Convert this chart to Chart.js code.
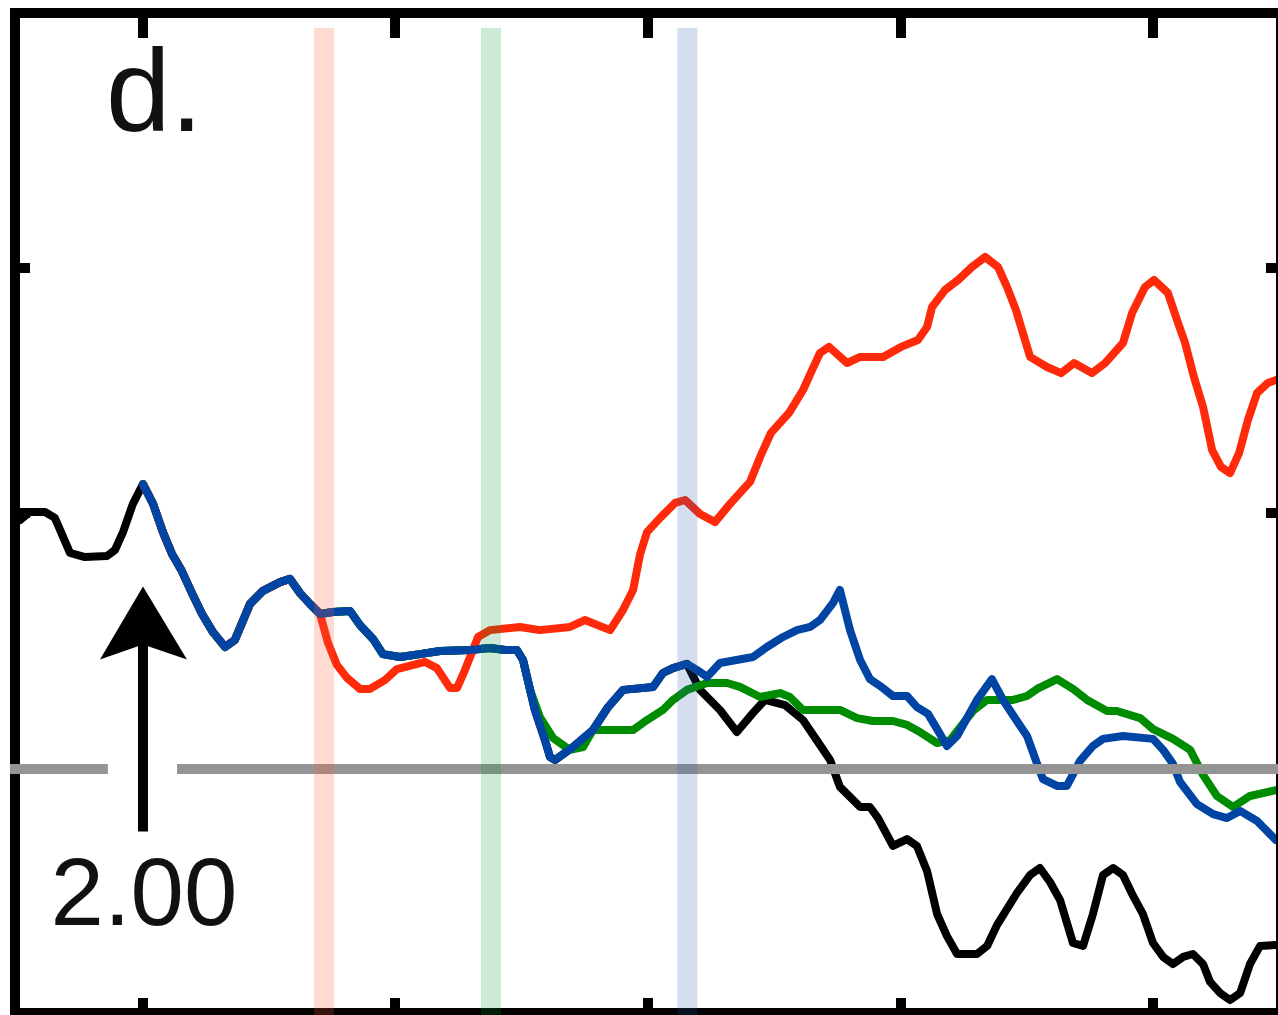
<!DOCTYPE html>
<html>
<head>
<meta charset="utf-8">
<title>d.</title>
<script src="https://cdn.jsdelivr.net/npm/chart.js@4.4.1/dist/chart.umd.min.js"></script>
<style>
  html, body { margin: 0; padding: 0; background: #fff; overflow: hidden; }
  #wrap { width: 1278px; height: 1015px; position: relative; }
</style>
</head>
<body>
<div id="wrap"><canvas id="chart"></canvas></div>
<script>
// axis ticks (no labels in the panel)
const xTicks = [1, 2, 3, 4, 5];
const yTicks = [1, 2];

// black series before the event
const preX = [0.513, 0.552, 0.612, 0.651, 0.711, 0.770, 0.857, 0.889, 0.921, 0.960];
const preY = [0.971, 1.004, 1.004, 0.980, 0.837, 0.820, 0.824, 0.849, 0.922, 1.037];

// path shared by all series from the event on
const commonX = [1.000, 1.040, 1.079, 1.115, 1.154, 1.194, 1.234, 1.277, 1.325, 1.364, 1.424, 1.475, 1.543, 1.582, 1.622, 1.661, 1.701, 1.752, 1.820, 1.859, 1.911, 1.950, 2.018, 2.097, 2.176, 2.295, 2.374, 2.434, 2.481, 2.505, 2.533, 2.552, 2.592, 2.612, 2.632, 2.703, 2.782, 2.842, 2.901, 3.020, 3.059, 3.099, 3.154];
const commonY = [1.118, 1.037, 0.922, 0.833, 0.763, 0.673, 0.588, 0.514, 0.453, 0.482, 0.629, 0.682, 0.718, 0.731, 0.673, 0.629, 0.588, 0.596, 0.600, 0.543, 0.486, 0.424, 0.412, 0.424, 0.437, 0.441, 0.449, 0.441, 0.441, 0.400, 0.278, 0.196, 0.073, 0.004, -0.008, 0.045, 0.114, 0.208, 0.278, 0.290, 0.347, 0.367, 0.384];

// where each coloured series leaves the shared path
const redSplit = 1.701;
const greenSplit = 2.533;
const blueSplit = 3.154;

const blackX = [3.206, 3.285, 3.352, 3.416, 3.463, 3.543, 3.614, 3.681, 3.721, 3.760, 3.800, 3.840, 3.879, 3.911, 3.970, 4.026, 4.065, 4.105, 4.145, 4.184, 4.224, 4.303, 4.343, 4.382, 4.461, 4.513, 4.552, 4.592, 4.632, 4.683, 4.723, 4.762, 4.802, 4.842, 4.881, 4.921, 4.960, 5.000, 5.040, 5.079, 5.119, 5.158, 5.198, 5.226, 5.265, 5.305, 5.345, 5.384, 5.424, 5.487];
const blackY = [0.278, 0.196, 0.106, 0.184, 0.237, 0.216, 0.155, 0.053, -0.008, -0.118, -0.159, -0.200, -0.200, -0.245, -0.359, -0.331, -0.359, -0.461, -0.637, -0.727, -0.800, -0.800, -0.767, -0.682, -0.551, -0.478, -0.449, -0.506, -0.580, -0.755, -0.767, -0.637, -0.478, -0.449, -0.478, -0.563, -0.637, -0.755, -0.812, -0.841, -0.812, -0.800, -0.841, -0.914, -0.959, -0.988, -0.959, -0.841, -0.767, -0.763];

const blueX = [3.206, 3.234, 3.285, 3.416, 3.471, 3.535, 3.590, 3.642, 3.681, 3.733, 3.760, 3.800, 3.840, 3.879, 3.919, 3.970, 4.026, 4.065, 4.109, 4.145, 4.184, 4.224, 4.263, 4.303, 4.362, 4.406, 4.461, 4.501, 4.541, 4.564, 4.620, 4.659, 4.711, 4.762, 4.802, 4.881, 5.000, 5.040, 5.079, 5.107, 5.174, 5.238, 5.293, 5.345, 5.412, 5.487];
const blueY = [0.351, 0.331, 0.388, 0.412, 0.453, 0.494, 0.522, 0.535, 0.563, 0.633, 0.686, 0.522, 0.400, 0.322, 0.294, 0.253, 0.253, 0.208, 0.180, 0.118, 0.049, 0.090, 0.163, 0.237, 0.322, 0.237, 0.151, 0.090, -0.024, -0.086, -0.114, -0.114, -0.012, 0.049, 0.078, 0.090, 0.078, 0.033, -0.024, -0.098, -0.188, -0.229, -0.245, -0.216, -0.257, -0.335];

const greenX = [2.572, 2.624, 2.691, 2.743, 2.782, 2.861, 2.941, 2.996, 3.059, 3.099, 3.154, 3.234, 3.313, 3.364, 3.444, 3.523, 3.562, 3.614, 3.681, 3.760, 3.828, 3.891, 3.970, 4.026, 4.077, 4.145, 4.196, 4.287, 4.343, 4.446, 4.501, 4.541, 4.620, 4.683, 4.739, 4.818, 4.857, 4.949, 5.000, 5.079, 5.147, 5.198, 5.253, 5.317, 5.384, 5.487];
const greenY = [0.167, 0.082, 0.033, 0.045, 0.114, 0.114, 0.114, 0.155, 0.196, 0.237, 0.278, 0.306, 0.306, 0.290, 0.249, 0.265, 0.249, 0.196, 0.196, 0.196, 0.163, 0.151, 0.151, 0.135, 0.106, 0.061, 0.073, 0.192, 0.237, 0.237, 0.253, 0.282, 0.322, 0.282, 0.237, 0.192, 0.192, 0.163, 0.118, 0.078, 0.033, -0.069, -0.155, -0.200, -0.155, -0.131];

const redX = [1.733, 1.768, 1.808, 1.859, 1.899, 1.958, 2.006, 2.117, 2.164, 2.216, 2.244, 2.275, 2.327, 2.374, 2.493, 2.572, 2.691, 2.750, 2.850, 2.901, 2.941, 2.968, 2.996, 3.048, 3.107, 3.147, 3.206, 3.265, 3.325, 3.404, 3.444, 3.487, 3.558, 3.614, 3.650, 3.681, 3.717, 3.788, 3.840, 3.931, 4.002, 4.069, 4.105, 4.125, 4.176, 4.228, 4.283, 4.335, 4.386, 4.422, 4.457, 4.493, 4.513, 4.580, 4.636, 4.687, 4.758, 4.810, 4.881, 4.917, 4.968, 5.004, 5.059, 5.095, 5.127, 5.162, 5.198, 5.234, 5.269, 5.305, 5.341, 5.376, 5.412, 5.455, 5.487];
const redY = [0.469, 0.380, 0.327, 0.282, 0.282, 0.318, 0.363, 0.392, 0.367, 0.286, 0.286, 0.359, 0.494, 0.522, 0.535, 0.522, 0.535, 0.563, 0.522, 0.604, 0.686, 0.829, 0.922, 0.980, 1.041, 1.053, 0.996, 0.963, 1.037, 1.127, 1.229, 1.327, 1.408, 1.502, 1.584, 1.653, 1.678, 1.612, 1.637, 1.637, 1.678, 1.706, 1.759, 1.841, 1.910, 1.951, 2.004, 2.045, 2.004, 1.922, 1.829, 1.706, 1.637, 1.596, 1.571, 1.612, 1.571, 1.612, 1.694, 1.816, 1.922, 1.951, 1.898, 1.788, 1.694, 1.555, 1.433, 1.257, 1.188, 1.163, 1.245, 1.380, 1.490, 1.531, 1.543];

// annotations
const bandX = [1.717, 2.378, 3.156];
const bandTop = 2.98;
const refLevel = -0.045;
const refGap = [0.861, 1.135];
const eventX = 1;
const arrowFrom = -0.30;
const arrowTo = 0.70;
const eventLabel = "2.00";
const eventLabelY = -0.682;
const panelLabel = "d.";

const zip = (xs, ys) => xs.slice(0, Math.min(xs.length, ys.length)).map((v, i) => ({ x: v, y: ys[i] }));
const common = zip(commonX, commonY);
const upTo = (lim) => common.filter((p) => p.x <= lim + 1e-9);

const blackData = zip(preX, preY).concat(common, zip(blackX, blackY));
const blueData = upTo(blueSplit).concat(zip(blueX, blueY));
const greenData = upTo(greenSplit).concat(zip(greenX, greenY));
const redData = upTo(redSplit).concat(zip(redX, redY));

const bandColors = ["rgba(255, 90, 60, 0.22)", "rgba(0, 150, 40, 0.2)", "rgba(40, 90, 170, 0.2)"];

const overlay = {
  id: "overlay",
  afterDatasetsDraw(chart) {
    const { ctx, chartArea: a, scales } = chart;
    const x = scales.x, y = scales.y;
    ctx.save();

    // frame + inward ticks
    ctx.fillStyle = "#000";
    ctx.fillRect(a.left - 10, a.top - 10, a.right - a.left + 20, 10);
    ctx.fillRect(a.left - 10, a.bottom, a.right - a.left + 20, 10);
    ctx.fillRect(a.left - 10, a.top - 10, 10, a.bottom - a.top + 20);
    ctx.fillRect(a.right, a.top - 10, 10, a.bottom - a.top + 20);
    xTicks.forEach((t) => {
      const px = Math.round(x.getPixelForValue(t));
      ctx.fillRect(px - 5, a.top, 10, 20);
      ctx.fillRect(px - 5, a.bottom - 10, 10, 10);
    });
    yTicks.forEach((t) => {
      const py = Math.round(y.getPixelForValue(t));
      ctx.fillRect(a.left, py - 5, 10, 10);
      ctx.fillRect(a.right - 10, py - 5, 10, 10);
    });

    // reference level, broken around the arrow
    const ry = y.getPixelForValue(refLevel);
    const g0 = x.getPixelForValue(refGap[0]);
    const g1 = x.getPixelForValue(refGap[1]);
    ctx.fillStyle = "#949494";
    ctx.fillRect(a.left - 10, ry - 5, g0 - (a.left - 10), 10);
    ctx.fillRect(g1, ry - 5, a.right + 10 - g1, 10);

    // vertical bands
    const bt = y.getPixelForValue(bandTop);
    bandX.forEach((b, i) => {
      const px = x.getPixelForValue(b);
      ctx.fillStyle = bandColors[i];
      ctx.fillRect(px - 10, bt, 20, chart.height - bt);
    });

    // arrow
    const ax = x.getPixelForValue(eventX);
    const tip = y.getPixelForValue(arrowTo);
    const tail = y.getPixelForValue(arrowFrom);
    ctx.fillStyle = "#000";
    ctx.fillRect(ax - 5, tip + 50, 10, tail - tip - 50);
    ctx.beginPath();
    ctx.moveTo(ax, tip);
    ctx.lineTo(ax + 44, tip + 73);
    ctx.lineTo(ax, tip + 58);
    ctx.lineTo(ax - 43, tip + 73);
    ctx.closePath();
    ctx.fill();

    // texts
    ctx.fillStyle = "#111";
    ctx.textBaseline = "alphabetic";
    ctx.textAlign = "center";
    ctx.font = '96px "Liberation Sans", Arial, sans-serif';
    ctx.fillText(eventLabel, ax + 1, y.getPixelForValue(eventLabelY));
    ctx.textAlign = "left";
    ctx.font = '116px "Liberation Sans", Arial, sans-serif';
    ctx.fillText(panelLabel, a.left + 86, a.top + 113);

    ctx.restore();
  },
};

const line = (data, color) => ({
  data,
  borderColor: color,
  borderWidth: 8,
  showLine: true,
  pointRadius: 0,
  tension: 0,
  borderJoinStyle: "round",
  borderCapStyle: "round",
});

new Chart(document.getElementById("chart"), {
  type: "scatter",
  data: {
    datasets: [
      line(blueData, "#0044a4"),
      line(redData, "#ff2a0a"),
      line(greenData, "#008c00"),
      line(blackData, "#000000"),
    ],
  },
  options: {
    responsive: true,
    maintainAspectRatio: false,
    animation: false,
    layout: { padding: { left: 20, top: 18, right: 2, bottom: 7 } },
    scales: {
      x: { type: "linear", min: 0.513, max: 5.487, display: false },
      y: { type: "linear", min: -1.0204, max: 3.0204, display: false },
    },
    plugins: { legend: { display: false }, tooltip: { enabled: false } },
  },
  plugins: [overlay],
});
</script>
</body>
</html>
